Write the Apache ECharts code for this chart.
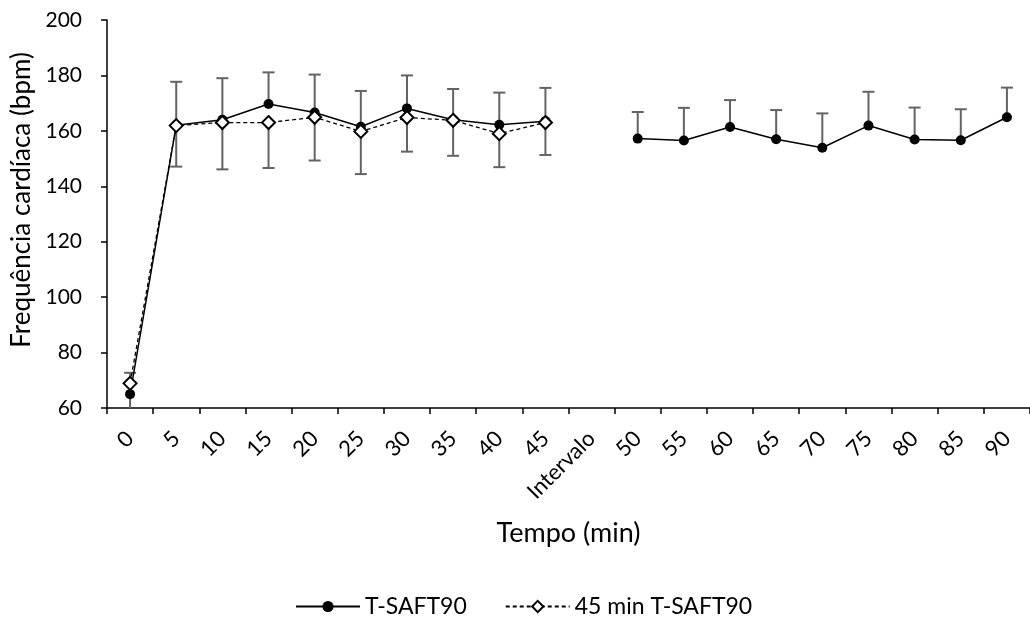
<!DOCTYPE html>
<html>
<head>
<meta charset="utf-8">
<script src="https://cdn.jsdelivr.net/npm/echarts@6/dist/echarts.min.js"></script>
<style>
html,body{margin:0;padding:0;background:#fff;}
#chart{width:1030px;height:620px;}
</style>
</head>
<body>
<div id="chart"></div>
<script>
// ---- data ----
var categories = ['0','5','10','15','20','25','30','35','40','45','Intervalo','50','55','60','65','70','75','80','85','90'];
var saft = [65, 162, 164, 169.7, 166.6, 161.5, 168.1, 164, 162.2, 163.5, null, 157.2, 156.5, 161.4, 157, 153.9, 161.9, 156.9, 156.6, 164.9];
var saftErrUp = [7.7, 15.7, 15, 11.4, 13.7, 12.9, 11.9, 11.1, 11.6, 12, null, 9.6, 11.8, 9.7, 10.5, 12.4, 12.2, 11.5, 11.2, 10.7];
var min45 = [68.9, 161.9, 163, 163, 164.9, 159.8, 164.8, 163.8, 159, 163, null, null, null, null, null, null, null, null, null, null];
var min45ErrDown = [9.5, 14.8, 16.9, 16.4, 15.6, 15.4, 12.3, 12.8, 12.1, 11.7, null, null, null, null, null, null, null, null, null, null];
var yTicks = {min: 60, max: 200, interval: 20};
var seriesNames = ['T-SAFT90', '45 min T-SAFT90'];
var yTitle = 'Frequência cardíaca (bpm)';
var xTitle = 'Tempo (min)';

var FONT = 'Lato';

function errData(vals, errs, dir) {
  var out = [];
  for (var i = 0; i < vals.length; i++) {
    if (vals[i] == null || errs[i] == null) continue;
    out.push([i, vals[i], vals[i] + dir * errs[i]]);
  }
  return out;
}

function renderErr(params, api) {
  var x = api.value(0);
  var p0 = api.coord([x, api.value(1)]);
  var p1 = api.coord([x, api.value(2)]);
  var cap = 6;
  var st = {stroke: '#636363', lineWidth: 2};
  return {
    type: 'group',
    children: [
      {type: 'line', shape: {x1: p0[0], y1: p0[1], x2: p1[0], y2: p1[1]}, style: st},
      {type: 'line', shape: {x1: p1[0] - cap, y1: p1[1], x2: p1[0] + cap, y2: p1[1]}, style: st}
    ]
  };
}

var chart = echarts.init(document.getElementById('chart'), null, {renderer: 'canvas'});
chart.setOption({
  animation: false,
  backgroundColor: '#fff',
  textStyle: {fontFamily: FONT},
  grid: {left: 107, top: 20, width: 929, height: 388, containLabel: false},
  legend: {
    left: 290, top: 590,
    itemGap: 38,
    itemWidth: 64, itemHeight: 14,
    textStyle: {fontFamily: FONT, fontSize: 23, color: '#000'},
    data: seriesNames
  },
  xAxis: {
    type: 'category',
    data: categories,
    boundaryGap: true,
    name: xTitle,
    nameLocation: 'middle',
    nameGap: 112,
    nameTextStyle: {fontFamily: FONT, fontSize: 27, color: '#000'},
    axisLine: {lineStyle: {color: '#000', width: 1.5}},
    axisTick: {show: true, length: 6, interval: 0, alignWithLabel: false, lineStyle: {color: '#000', width: 1.5}},
    axisLabel: {interval: 0, rotate: 45, margin: 27, fontFamily: FONT, fontSize: 22, color: '#000'},
    splitLine: {show: false}
  },
  yAxis: {
    type: 'value',
    min: yTicks.min, max: yTicks.max, interval: yTicks.interval,
    axisLine: {show: true, lineStyle: {color: '#000', width: 1.5}},
    axisTick: {show: true, length: 6, lineStyle: {color: '#000', width: 1.5}},
    axisLabel: {margin: 25, fontFamily: FONT, fontSize: 21, color: '#000'},
    splitLine: {show: false}
  },
  graphic: [{
    type: 'text',
    x: 22, y: 200,
    rotation: Math.PI / 2,
    style: {text: yTitle, font: '26px ' + FONT, fill: '#000', textAlign: 'center', textVerticalAlign: 'middle'}
  }],
  series: [
    {
      type: 'custom', name: 'errUp', renderItem: renderErr, clip: true, z: 1,
      data: errData(saft, saftErrUp, 1), silent: true
    },
    {
      type: 'custom', name: 'errDown', renderItem: renderErr, clip: true, z: 1,
      data: errData(min45, min45ErrDown, -1), silent: true
    },
    {
      type: 'line', name: seriesNames[0], data: saft, z: 3,
      connectNulls: false,
      symbol: 'circle', symbolSize: 10, showAllSymbol: true,
      lineStyle: {color: '#000', width: 1.5, type: 'solid'},
      itemStyle: {color: '#000', borderColor: '#000', borderWidth: 0}
    },
    {
      type: 'line', name: seriesNames[1], data: min45, z: 4,
      connectNulls: false,
      symbol: 'diamond', symbolSize: 13, showAllSymbol: true,
      lineStyle: {color: '#000', width: 1.3, type: [4, 3]},
      itemStyle: {color: '#fff', borderColor: '#000', borderWidth: 2}
    }
  ]
});
</script>
</body>
</html>
